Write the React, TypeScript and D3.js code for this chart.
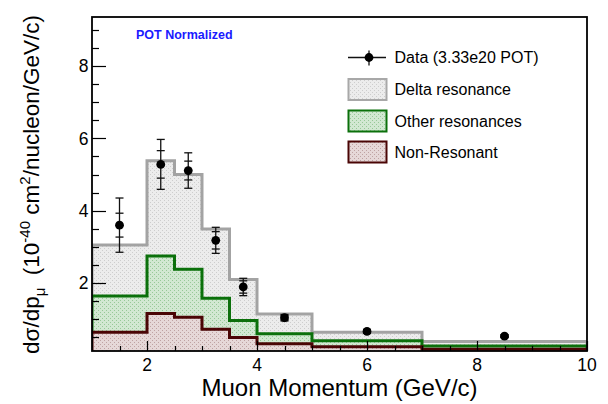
import React from 'react';
import * as d3 from 'd3';

// ---- data ----
const binEdges = [1, 2, 2.5, 3, 3.5, 4, 5, 7, 10];
const nonResonant = [0.64, 1.16, 1.05, 0.72, 0.49, 0.32, 0.24, 0.17];
const otherResonances = [1.0, 1.59, 1.33, 0.86, 0.47, 0.28, 0.16, 0.09];
const deltaResonance = [1.41, 2.63, 2.62, 1.91, 1.14, 0.54, 0.24, 0.12];
const dataX = [1.5, 2.25, 2.75, 3.25, 3.75, 4.5, 6, 8.5];
const dataY = [3.6, 5.28, 5.11, 3.18, 1.89, 1.04, 0.66, 0.53];
const statErr = [0.33, 0.38, 0.26, 0.24, 0.17, 0.06, 0.03, 0.03];
const totalErr = [0.75, 0.69, 0.49, 0.36, 0.24, 0.09, 0.05, 0.04];
const xTickLabels = [2, 4, 6, 8, 10];
const yTickLabels = [2, 4, 6, 8];
const legendLabels = ['Data (3.33e20 POT)', 'Delta resonance', 'Other resonances', 'Non-Resonant'];

const FONT = "'Liberation Sans', Arial, Helvetica, sans-serif";

const W = 608;
const H = 404;
const L = 92;
const R = 587;
const T = 17;
const B = 351;

export default function App() {
  const x = d3.scaleLinear().domain([1, 10]).range([L, R]);
  const y = d3.scaleLinear().domain([0.12, 9.355]).range([B, T]);

  const rows = nonResonant.map((_, i) => ({
    nonRes: nonResonant[i],
    other: otherResonances[i],
    delta: deltaResonance[i],
  }));
  const stacked = d3.stack<any>().keys(['nonRes', 'other', 'delta'])(rows);
  const tops = stacked.map((s) => s.map((d) => d[1]));

  const stepPts = (vals: number[]) =>
    binEdges.map((e, i) => [x(e), y(vals[Math.min(i, vals.length - 1)])] as [number, number]);

  const areaGen = d3
    .area<[number, number]>()
    .curve(d3.curveStepAfter)
    .x((d) => d[0])
    .y0(B + 5)
    .y1((d) => d[1]);
  const lineGen = d3.line<[number, number]>().curve(d3.curveStepAfter);

  const outline = (vals: number[]) => {
    const pts = stepPts(vals);
    return lineGen([[x(binEdges[0]), B + 5], ...pts, [x(binEdges[binEdges.length - 1]), B + 5]]);
  };

  const layers = [
    { vals: tops[2], fill: 'url(#patGray)', stroke: '#a3a3a3' },
    { vals: tops[1], fill: 'url(#patGreen)', stroke: '#0b700b' },
    { vals: tops[0], fill: 'url(#patBrown)', stroke: '#4a0505' },
  ];

  const yMinor = d3.range(0.5, 9.3, 0.5);
  const xMinor = d3.range(1.5, 10.01, 0.5);

  const legendY = [57.5, 89.5, 121, 152];
  const legendStyles = [
    null,
    { fill: 'url(#patGray)', stroke: '#a8a8a8' },
    { fill: 'url(#patGreen)', stroke: '#0b700b' },
    { fill: 'url(#patBrown)', stroke: '#4a0505' },
  ];

  const capW = 4;

  return (
    <svg
      width={W}
      height={H}
      style={{ position: 'absolute', left: 0, top: 0, background: '#fff' }}
      fontFamily={FONT}
    >
      <defs>
        <pattern id="patGray" patternUnits="userSpaceOnUse" width={4} height={4}>
          <rect width={4} height={4} fill="#ececec" />
          <rect x={0} y={0} width={1} height={1} fill="#cdcdcd" />
          <rect x={2} y={2} width={1} height={1} fill="#cdcdcd" />
        </pattern>
        <pattern id="patGreen" patternUnits="userSpaceOnUse" width={4} height={4}>
          <rect width={4} height={4} fill="#d2e8d2" />
          <rect x={0} y={0} width={1} height={1} fill="#98c898" />
          <rect x={2} y={2} width={1} height={1} fill="#98c898" />
        </pattern>
        <pattern id="patBrown" patternUnits="userSpaceOnUse" width={4} height={4}>
          <rect width={4} height={4} fill="#e6d8d8" />
          <rect x={0} y={0} width={1} height={1} fill="#bfa3a3" />
          <rect x={2} y={2} width={1} height={1} fill="#bfa3a3" />
        </pattern>
        <clipPath id="plotClip">
          <rect x={L} y={T} width={R - L} height={B - T} />
        </clipPath>
      </defs>

      <rect x={0} y={0} width={W} height={H} fill="#fff" />

      {/* stacked histograms */}
      <g clipPath="url(#plotClip)">
        {layers.map((ly, i) => (
          <g key={i}>
            <path d={areaGen(stepPts(ly.vals)) || ''} fill={ly.fill} />
            <path d={outline(ly.vals) || ''} fill="none" stroke={ly.stroke} strokeWidth={3} />
          </g>
        ))}
      </g>

      {/* data points */}
      <g>
        {dataX.map((dx, i) => {
          const cx = x(dx);
          const cy = y(dataY[i]);
          const to = [y(dataY[i] + totalErr[i]), y(dataY[i] - totalErr[i])];
          const st = [y(dataY[i] + statErr[i]), y(dataY[i] - statErr[i])];
          return (
            <g key={i} stroke="#111" strokeWidth={1.3}>
              <line x1={cx} x2={cx} y1={to[0]} y2={to[1]} />
              <line x1={cx - capW} x2={cx + capW} y1={to[0]} y2={to[0]} />
              <line x1={cx - capW} x2={cx + capW} y1={to[1]} y2={to[1]} />
              <line x1={cx - capW} x2={cx + capW} y1={st[0]} y2={st[0]} />
              <line x1={cx - capW} x2={cx + capW} y1={st[1]} y2={st[1]} />
              <circle cx={cx} cy={cy} r={4.4} fill="#000" stroke="none" />
            </g>
          );
        })}
      </g>

      {/* axes ticks */}
      <g stroke="#000" strokeWidth={1.2}>
        {yMinor.map((v) => {
          const major = yTickLabels.includes(v);
          const yy = Math.round(y(v)) + 0.5;
          return <line key={'y' + v} x1={L} x2={L + (major ? 14 : 7)} y1={yy} y2={yy} />;
        })}
        {xMinor.map((v) => {
          const major = xTickLabels.includes(v);
          const xx = Math.round(x(v)) + 0.5;
          return <line key={'x' + v} x1={xx} x2={xx} y1={B} y2={B - (major ? 10 : 5)} />;
        })}
      </g>

      {/* frame */}
      <rect x={L} y={T} width={R - L} height={B - T} fill="none" stroke="#000" strokeWidth={1.8} />

      {/* tick labels */}
      <g fontSize={17.5} fill="#000">
        {yTickLabels.map((v) => (
          <text key={'yl' + v} x={88.5} y={y(v) + 6.3} textAnchor="end">
            {v}
          </text>
        ))}
        {xTickLabels.map((v) => (
          <text key={'xl' + v} x={x(v)} y={371} textAnchor="middle">
            {v}
          </text>
        ))}
      </g>

      {/* axis titles */}
      <text x={(L + R) / 2} y={396} fontSize={24} textAnchor="middle" fill="#000">
        Muon Momentum (GeV/c)
      </text>
      <text transform="translate(39,354) rotate(-90)" fontSize={22.5} fill="#000">
        <tspan>dσ/dp</tspan>
        <tspan fontSize={15} dy={6}>μ</tspan>
        <tspan dy={-6}>{'\u00a0\u00a0(10'}</tspan>
        <tspan fontSize={15} dy={-9}>-40</tspan>
        <tspan dy={9}>{'\u00a0cm'}</tspan>
        <tspan fontSize={15} dy={-9}>2</tspan>
        <tspan dy={9}>/nucleon/GeV/c)</tspan>
      </text>

      {/* POT normalized label */}
      <text x={136} y={38.5} fontSize={12.5} fontWeight="bold" fill="#1a1aff">
        POT Normalized
      </text>

      {/* legend */}
      <g>
        {legendLabels.map((lab, i) => {
          const cy = legendY[i];
          const st = legendStyles[i];
          return (
            <g key={lab}>
              {st ? (
                <rect x={348.5} y={cy - 10.5} width={38} height={21} fill={st.fill} stroke={st.stroke} strokeWidth={2} />
              ) : (
                <g stroke="#111" strokeWidth={1.3}>
                  <line x1={348} x2={386} y1={cy} y2={cy} />
                  <line x1={369} x2={369} y1={cy - 7} y2={cy + 8} />
                  <circle cx={369} cy={cy} r={4.4} fill="#000" stroke="none" />
                </g>
              )}
              <text x={394.5} y={cy + 5.8} fontSize={16} fill="#000">
                {lab}
              </text>
            </g>
          );
        })}
      </g>
    </svg>
  );
}
